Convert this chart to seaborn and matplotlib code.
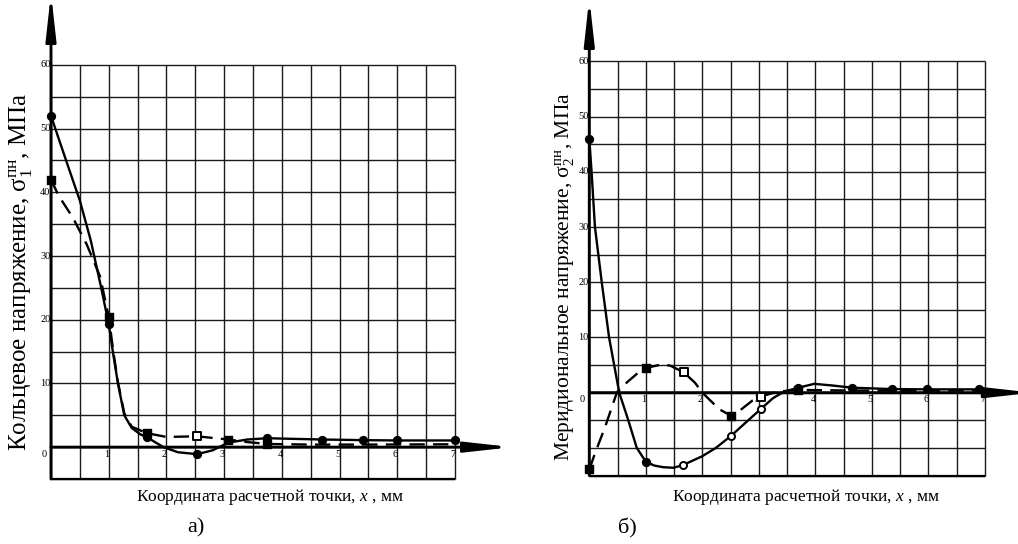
import numpy as np
import matplotlib
matplotlib.use("Agg")
import matplotlib.pyplot as plt
import seaborn as sns

# ---- data: ring stress (panel a) ----
ring_solid_x = [0.00, 0.25, 0.50, 0.69, 0.87, 1.00, 1.08, 1.16, 1.27, 1.40, 1.55, 1.66, 1.80, 1.95,
                2.20, 2.53, 2.80, 3.07, 3.40, 3.75, 4.20, 4.70, 5.40, 6.00, 7.00]
ring_solid_y = [52.0, 45.3, 38.7, 32.4, 25.0, 19.3, 14.5, 10.0, 5.0, 3.0, 2.0, 1.6, 0.8, 0.0,
                -0.8, -1.1, -0.5, 0.7, 1.2, 1.4, 1.3, 1.2, 1.1, 1.05, 1.05]
ring_solid_pts_x = [0.00, 1.00, 1.66, 2.53, 3.75, 4.70, 5.40, 6.00, 7.00]
ring_solid_pts_y = [52.0, 19.3, 1.6, -1.1, 1.4, 1.2, 1.1, 1.05, 1.05]

ring_dash_x = [0.00, 0.13, 0.38, 0.62, 0.85, 1.00, 1.08, 1.16, 1.27, 1.40, 1.66, 2.00, 2.53,
               3.07, 3.40, 3.74, 4.50, 5.50, 7.00]
ring_dash_y = [42.0, 39.5, 36.0, 31.8, 26.8, 20.5, 15.0, 10.2, 5.3, 3.2, 2.2, 1.6, 1.7,
               1.2, 0.8, 0.5, 0.4, 0.4, 0.45]
ring_dash_pts_x = [0.00, 1.00, 1.66, 2.53, 3.07, 3.74]
ring_dash_pts_y = [42.0, 20.5, 2.2, 1.7, 1.2, 0.5]

# ---- data: meridional stress (panel b) ----
mer_solid_x = [0.00, 0.04, 0.10, 0.22, 0.35, 0.53, 0.69, 0.84, 1.00, 1.15, 1.31, 1.49, 1.66,
               2.00, 2.24, 2.51, 2.78, 3.04, 3.25, 3.45, 3.70, 3.98, 4.30, 4.65, 5.36, 5.98, 6.90]
mer_solid_y = [46.0, 40.0, 30.0, 20.0, 10.0, 0.0, -5.0, -10.0, -12.5, -13.2, -13.5, -13.6, -13.1,
               -11.5, -10.0, -7.8, -5.3, -2.9, -1.0, 0.2, 0.9, 1.6, 1.3, 0.9, 0.65, 0.6, 0.6]
mer_solid_pts_x = [0.00, 1.00, 1.66, 2.51, 3.04, 3.70, 4.65, 5.36, 5.98, 6.90]
mer_solid_pts_y = [46.0, -12.5, -13.1, -7.8, -2.9, 0.9, 0.9, 0.65, 0.6, 0.6]

mer_dash_x = [0.00, 0.10, 0.19, 0.28, 0.40, 0.49, 0.67, 0.84, 1.01, 1.28, 1.43, 1.67, 1.87,
              2.00, 2.18, 2.30, 2.51, 2.63, 2.89, 3.04, 3.33, 3.70, 4.50, 5.50, 7.00]
mer_dash_y = [-13.9, -11.0, -8.6, -6.2, -2.6, 0.1, 1.9, 3.4, 4.5, 5.1, 4.9, 3.7, 1.8,
              0.0, -1.8, -3.0, -4.2, -3.5, -1.4, -0.7, 0.2, 0.5, 0.4, 0.35, 0.4]
mer_dash_pts_x = [0.00, 1.01, 1.67, 2.51, 3.04, 3.70]
mer_dash_pts_y = [-13.9, 4.5, 3.7, -4.2, -0.7, 0.5]

# hollow-marker flags for the point series
ring_solid_hollow = [False] * 9
ring_dash_hollow = [False, False, False, True, False, False]
mer_solid_hollow = [False, False, True, True, True, False, False, False, False, False]
mer_dash_hollow = [False, False, True, False, True, False]

y_tick_labels = [0, 10, 20, 30, 40, 50, 60]
x_tick_labels = [1, 2, 3, 4, 5, 6, 7]

ylabel_a = "Кольцевое напряжение, σ$_1^{\\mathrm{пн}}$, МПа"
ylabel_b = "Меридиональное напряжение, σ$_2^{\\mathrm{пн}}$, МПа"
xlabel = "Координата расчетной точки, $x$ , мм"

sns.set_style("white")
plt.rcParams["font.family"] = ["Liberation Serif", "DejaVu Serif"]
plt.rcParams["text.color"] = "black"
plt.rcParams["mathtext.fontset"] = "custom"
plt.rcParams["mathtext.rm"] = "Liberation Serif"
plt.rcParams["mathtext.it"] = "Liberation Serif:italic"

W, H = 1018, 544
fig = plt.figure(figsize=(W / 100, H / 100), dpi=100)
fig.patch.set_facecolor("white")


def panel(rect, xlim, ylim, grid_ymin, arrow_ends, series, ylabel, ylabel_pos, xlabel_pos,
          letter, letter_pos, ylabel_size):
    ax = fig.add_axes(rect)
    ax.set_xlim(*xlim)
    ax.set_ylim(*ylim)
    ax.axis("off")

    # grid: 0.5 mm by 5 MPa cells
    gx = np.arange(0, 7.001, 0.5)
    gy = np.arange(grid_ymin, 60.001, 5)
    ax.vlines(gx, grid_ymin, 60, colors="0.1", lw=1.0, zorder=1)
    ax.hlines(gy, 0, 7, colors="0.1", lw=1.0, zorder=1)
    ax.hlines([grid_ymin], 0, 7, colors="k", lw=1.6, zorder=1)

    # axes with arrows
    arrow = dict(arrowstyle="-|>,head_length=1.35,head_width=0.15", mutation_scale=20,
                 lw=2.1, color="k", shrinkA=0, shrinkB=0)
    ax.annotate("", xy=(arrow_ends[0], 0), xytext=(0, 0), arrowprops=arrow,
                annotation_clip=False, zorder=3)
    ax.annotate("", xy=(0, arrow_ends[1]), xytext=(0, grid_ymin), arrowprops=arrow,
                annotation_clip=False, zorder=3)

    # tick labels
    for v in y_tick_labels:
        if v == 0:
            ax.annotate(str(v), xy=(0, v), xytext=(-3, -2), textcoords="offset points",
                        ha="right", va="top", fontsize=7.5)
        else:
            ax.annotate(str(v), xy=(0, v), xytext=(-0.3, 0), textcoords="offset points",
                        ha="right", va="center", fontsize=7.5)
    for v in x_tick_labels:
        ax.annotate(str(v), xy=(v, 0), xytext=(0.5, -2), textcoords="offset points",
                    ha="right", va="top", fontsize=7.5)

    # curves and points
    for (lx, ly, px, py, hollow, dashed, marker) in series:
        ls = (0, (6.5, 3.5)) if dashed else "-"
        sns.lineplot(x=lx, y=ly, ax=ax, color="k", lw=1.7, linestyle=ls, sort=False,
                     estimator=None, zorder=4)
        px = np.asarray(px)
        py = np.asarray(py)
        hol = np.asarray(hollow)
        sns.scatterplot(x=px[~hol], y=py[~hol], ax=ax, marker=marker, s=32, color="k",
                        edgecolor="k", linewidth=1.0, zorder=5)
        if hol.any():
            sns.scatterplot(x=px[hol], y=py[hol], ax=ax, marker=marker, s=26, color="white",
                            edgecolor="k", linewidth=1.4, zorder=5)
    for coll in ax.collections:
        coll.set_clip_on(False)
    for line in ax.lines:
        line.set_clip_on(False)

    fig.text(ylabel_pos[0] / W, 1 - ylabel_pos[1] / H, ylabel, rotation=90, ha="center",
             va="center", fontsize=ylabel_size)
    fig.text(xlabel_pos[0] / W, 1 - xlabel_pos[1] / H, xlabel, ha="center", va="center",
             fontsize=12.5)
    fig.text(letter_pos[0] / W, 1 - letter_pos[1] / H, letter, ha="center", va="center",
             fontsize=16)
    return ax


panel([51 / W, (H - 479) / H, 449 / W, 474 / H], (0, 7.78), (-5, 69.4), -5, (7.99, 71.3),
      [(ring_solid_x, ring_solid_y, ring_solid_pts_x, ring_solid_pts_y, ring_solid_hollow, False, "o"),
       (ring_dash_x, ring_dash_y, ring_dash_pts_x, ring_dash_pts_y, ring_dash_hollow, True, "s")],
      ylabel_a, (21, 272), (270, 497), "а)", (196, 528), 18)

panel([589.3 / W, (H - 475.5) / H, 426.7 / W, 465.5 / H], (0, 7.55), (-15, 69.3), -15, (7.85, 71.5),
      [(mer_solid_x, mer_solid_y, mer_solid_pts_x, mer_solid_pts_y, mer_solid_hollow, False, "o"),
       (mer_dash_x, mer_dash_y, mer_dash_pts_x, mer_dash_pts_y, mer_dash_hollow, True, "s")],
      ylabel_b, (565, 277), (806, 497), "б)", (627, 528), 15.5)

fig.savefig("out.png", dpi=100, facecolor="white")
